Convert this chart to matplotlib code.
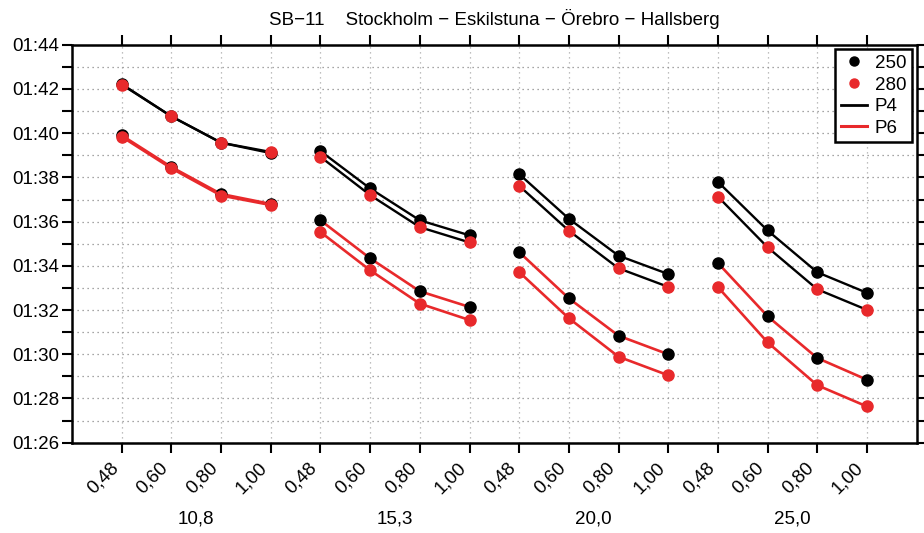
import matplotlib
matplotlib.use("Agg")
import matplotlib.pyplot as plt
from matplotlib.ticker import FuncFormatter, MultipleLocator
from matplotlib.lines import Line2D

plt.rcParams['font.family'] = ['Liberation Sans', 'DejaVu Sans']

groups = ["10,8", "15,3", "20,0", "25,0"]
sublabels = ["0,48", "0,60", "0,80", "1,00"]

# lap times in seconds, per group (4 values each)
p4_250 = [[102.22, 100.76, 99.57, 99.10],
          [99.19, 97.50, 96.06, 95.38],
          [98.15, 96.13, 94.46, 93.63],
          [97.80, 95.60, 93.71, 92.78]]
p4_280 = [[102.20, 100.76, 99.57, 99.15],
          [98.93, 97.20, 95.75, 95.06],
          [97.62, 95.59, 93.89, 93.05],
          [97.13, 94.84, 92.94, 92.01]]
p6_250 = [[99.90, 98.47, 97.25, 96.80],
          [96.06, 94.34, 92.85, 92.14],
          [94.62, 92.53, 90.84, 90.00],
          [94.13, 91.72, 89.83, 88.85]]
p6_280 = [[99.84, 98.41, 97.18, 96.75],
          [95.53, 93.80, 92.29, 91.55],
          [93.72, 91.63, 89.89, 89.05],
          [93.04, 90.54, 88.60, 87.64]]

RED = '#e8292b'
BLACK = '#000000'
FS = 13.5

fig = plt.figure(figsize=(9.24, 5.33), dpi=100)
ax = fig.add_axes([0.078, 0.1694, 0.914, 0.7466])

series = [(p4_250, BLACK, BLACK, 1.7),
          (p4_280, BLACK, RED, 1.7),
          (p6_250, RED, BLACK, 1.9),
          (p6_280, RED, RED, 1.9)]

for data, lc, mc, lw in series:
    for g, vals in enumerate(data):
        xs = [g * 4 + i + 1 for i in range(4)]
        ax.plot(xs, vals, color=lc, lw=lw, marker='o', markersize=8,
                markerfacecolor=mc, markeredgecolor=mc, zorder=3)

ax.set_xlim(0, 17)
ax.set_ylim(86, 104)

xt = list(range(1, 17))
ax.set_xticks(xt)
ax.set_xticklabels(sublabels * 4, rotation=45, ha='right', va='top',
                   fontsize=FS)
ax.yaxis.set_major_locator(MultipleLocator(2))
ax.yaxis.set_minor_locator(MultipleLocator(1))
ax.yaxis.set_major_formatter(FuncFormatter(
    lambda v, p: "%02d:%02d" % (int(round(v)) // 60, int(round(v)) % 60)))
ax.tick_params(axis='y', labelsize=FS, pad=2)

ax.tick_params(which='both', direction='out', length=7, width=1.5,
               top=True, right=True, labelright=False, labeltop=False)
ax.tick_params(axis='x', pad=5)

for s in ax.spines.values():
    s.set_linewidth(1.8)

ax.grid(True, which='both', axis='y', linestyle=(0, (1, 3)), color='#888888', lw=0.9)
ax.grid(True, which='major', axis='x', linestyle=(0, (1, 3)), color='#aaaaaa', lw=0.9)
ax.set_axisbelow(True)

for g, name in enumerate(groups):
    ax.text(g * 4 + 2.5, -0.192, name, transform=ax.get_xaxis_transform(),
            ha='center', va='center', fontsize=FS)

ax.set_title("SB\u221211    Stockholm \u2212 Eskilstuna \u2212 \u00d6rebro \u2212 Hallsberg",
             fontsize=FS, pad=14)

handles = [Line2D([], [], ls='none', marker='o', color=BLACK, markersize=6.5),
           Line2D([], [], ls='none', marker='o', color=RED, markersize=6.5),
           Line2D([], [], color=BLACK, lw=2),
           Line2D([], [], color=RED, lw=2.2)]
leg = ax.legend(handles, ["250", "280", "P4", "P6"], loc='upper right',
                bbox_to_anchor=(0.9945, 0.989),
                fontsize=FS, frameon=True, fancybox=False, framealpha=1,
                edgecolor='black', handlelength=1.4, borderpad=0.3,
                labelspacing=0.24, handletextpad=0.4, borderaxespad=0)
leg.get_frame().set_linewidth(1.8)

fig.savefig("out.png", dpi=100)
